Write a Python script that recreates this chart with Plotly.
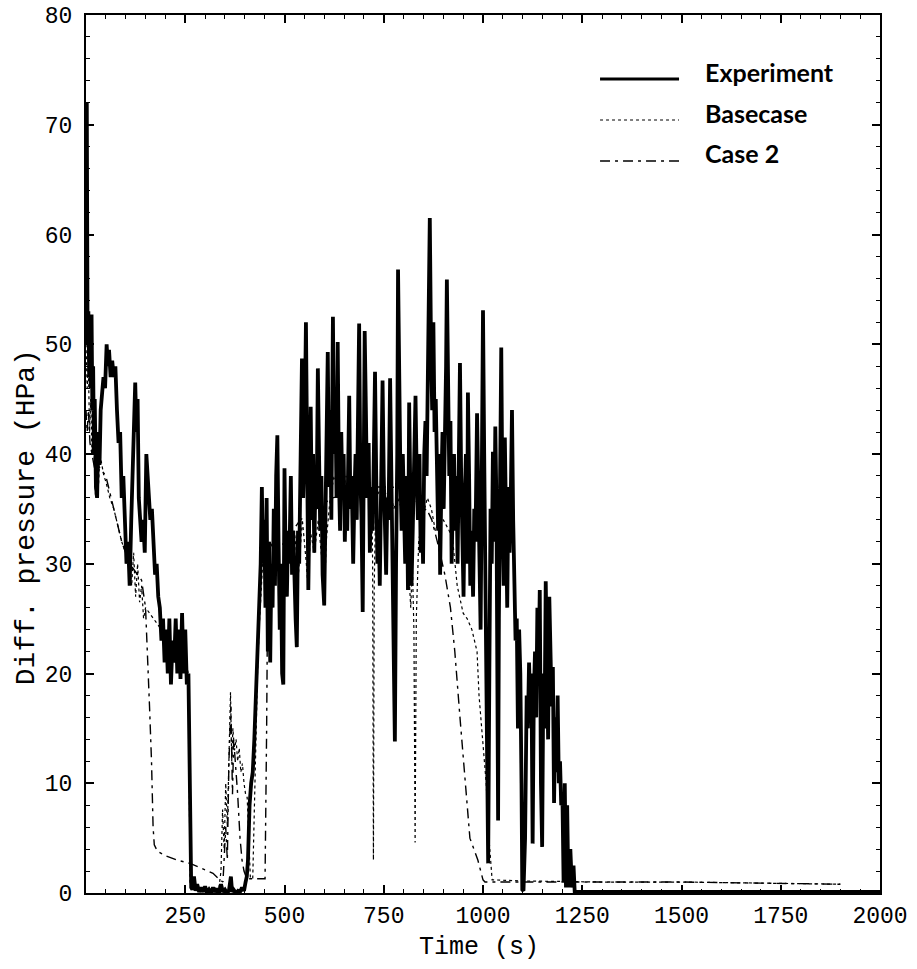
import plotly.graph_objects as go

# Differential pressure traces: (time s, pressure HPa)
experiment = [
    (0, 55), (2, 72), (4, 50), (6, 53), (8, 47), (10, 52.5), (12, 46), (14, 52.7), (16, 44), (18, 48),
    (20, 40), (22, 45), (25, 37), (28, 36), (31, 42), (34, 39), (37, 44), (40, 45), (44, 47), (48, 46),
    (52, 50), (55, 48), (58, 49.5), (62, 47), (66, 48.5), (70, 47), (74, 48), (78, 44), (82, 41), (86, 42),
    (90, 36), (94, 38), (98, 33), (102, 30), (106, 32), (110, 28), (114, 34), (118, 40), (121, 44), (124, 46.5),
    (127, 42), (130, 45), (133, 36), (136, 34), (140, 32), (144, 34), (148, 31), (152, 40), (156, 38), (159, 36),
    (162, 34), (166, 35), (170, 32), (174, 29), (178, 30), (182, 27), (186, 26), (190, 23), (194, 25), (198, 21),
    (202, 24), (206, 20), (210, 25), (214, 19), (218, 23), (222, 21), (226, 25), (230, 20), (234, 24), (238, 19.5),
    (242, 25.5), (246, 20), (250, 24), (254, 19), (258, 20), (262, 5), (265, 0.5), (268, 0.3), (272, 1.5), (276, 0.2),
    (280, 0.8), (285, 0.1), (290, 0.5), (295, 0.1), (300, 0.6), (305, 0), (310, 0.3), (315, 0), (320, 0.5), (325, 0.1),
    (330, 0.4), (335, 0), (340, 0.8), (345, 0.1), (350, 0.3), (355, 0), (360, 0.2), (365, 1.5), (368, 0.1), (372, 0.3),
    (378, 0), (383, 0.2), (388, 0.1), (393, 0.5), (398, 0.2), (402, 1), (405, 1.5), (408, 3), (412, 8), (416, 10),
    (420, 11), (424, 14), (428, 18), (432, 20), (436, 24), (440, 30), (443, 37), (446, 30), (449, 34), (452, 26),
    (455, 36), (458, 22), (461, 32), (464, 21), (467, 30), (470, 26), (473, 35), (476, 28), (479, 38), (482, 41.7),
    (485, 32), (488, 24), (491, 30), (494, 20), (497, 19), (500, 38.7), (503, 30), (506, 27), (509, 33), (512, 30),
    (516, 38), (519, 29), (522, 33), (525, 27), (528, 25), (531, 22.4), (534, 33), (537, 30), (540, 36), (544, 48.7),
    (547, 36), (550, 40), (554, 52), (557, 38), (560, 27.6), (563, 36), (566, 44.3), (569, 34), (572, 40), (575, 31),
    (578, 38), (581, 35), (584, 47.8), (587, 40), (590, 33), (593, 38), (596, 29), (600, 26.2), (603, 36), (606, 40),
    (609, 49.3), (612, 37), (615, 44), (618, 34), (622, 52.5), (625, 40), (628, 46), (631, 36), (634, 50.2), (637, 38),
    (640, 33), (643, 42), (646, 36), (649, 40), (652, 32), (655, 37), (658, 33), (663, 45.3), (666, 35), (669, 38),
    (673, 30), (676, 36), (679, 40), (682, 34), (685, 43), (688, 51.9), (691, 38), (694, 34), (697, 25.6), (700, 40),
    (702, 51.2), (705, 44), (708, 36), (712, 41), (715, 31), (718, 37), (722, 33), (725, 40), (728, 47.5), (731, 38),
    (734, 30), (737, 34), (740, 28), (743, 36), (747, 46.7), (750, 38), (753, 33), (756, 29), (759, 36), (762, 34),
    (766, 46.9), (769, 38), (772, 31), (775, 20), (778, 13.8), (781, 30), (784, 40), (786, 56.8), (789, 46), (792, 38),
    (795, 33), (798, 40), (801, 35), (804, 30), (808, 38), (811, 27.6), (814, 44.7), (817, 36), (820, 28), (823, 33),
    (826, 39), (830, 45.3), (833, 38), (836, 34), (840, 40), (843, 31), (846, 36), (849, 30), (852, 40), (855, 43),
    (858, 38), (861, 46), (864, 55), (866, 61.5), (869, 50), (872, 44), (875, 52), (878, 42), (881, 45), (884, 36),
    (887, 33), (890, 40), (892, 29), (895, 37), (898, 42), (901, 35), (904, 40), (907, 48), (909, 55.9), (912, 46),
    (915, 38), (918, 43), (921, 30), (924, 36), (927, 40), (930, 33), (933, 38), (936, 30), (939, 41), (942, 48.3),
    (945, 38), (948, 32), (951, 27), (954, 36), (957, 40), (960, 30), (962, 45.6), (965, 38), (968, 28), (971, 33),
    (975, 27), (978, 35), (981, 32), (985, 43.7), (988, 35), (991, 30), (994, 24), (997, 38), (1000, 53.1), (1003, 40),
    (1006, 30), (1009, 18), (1011, 8), (1013, 2.7), (1016, 20), (1019, 35), (1022, 30), (1025, 40.2), (1028, 32), (1031, 42.5),
    (1034, 35), (1036, 20), (1038, 6.6), (1040, 25), (1043, 38), (1046, 49.7), (1049, 35), (1052, 28), (1055, 41.5), (1058, 30),
    (1061, 26), (1064, 37), (1067, 31), (1070, 36), (1073, 44), (1076, 34), (1079, 30), (1082, 23), (1085, 25), (1088, 15),
    (1091, 24), (1094, 20), (1097, 10), (1099, 0.3), (1102, 0.2), (1106, 5), (1110, 18), (1113, 15), (1116, 21), (1119, 17),
    (1122, 20), (1125, 4.5), (1128, 18), (1131, 22), (1134, 16), (1137, 26), (1140, 20), (1143, 27.6), (1146, 10), (1149, 4.2),
    (1152, 20), (1155, 15), (1158, 28.4), (1161, 21), (1164, 14), (1167, 27), (1170, 20), (1173, 17), (1176, 20.6), (1179, 8.2),
    (1182, 16), (1185, 11), (1188, 18), (1191, 10), (1194, 12), (1197, 8), (1200, 9), (1203, 1), (1206, 10), (1209, 0.5),
    (1212, 8), (1215, 0.5), (1220, 4), (1224, 0.5), (1228, 2.5), (1231, 0.1), (1300, 0.1), (1500, 0.1), (1700, 0.1), (2000, 0.1),
]

basecase = [
    (0, 50), (3, 46), (6, 48), (9, 42), (12, 45), (15, 40), (18, 43), (21, 38), (24, 36), (27, 37),
    (30, 36), (35, 40), (40, 39), (45, 38), (50, 37.5), (60, 36), (70, 35), (80, 33.5), (90, 32), (100, 31),
    (110, 30), (115, 28), (120, 31), (125, 27), (130, 30), (135, 26.5), (140, 28), (145, 25), (150, 26), (170, 25),
    (190, 24), (210, 23), (230, 22), (250, 21), (258, 20), (262, 1), (270, 0.3), (300, 0.4), (335, 0.5), (340, 2),
    (344, 7.6), (348, 4), (352, 10), (356, 6), (360, 12), (364, 18.3), (367, 12), (370, 15), (374, 13), (378, 14),
    (382, 12), (386, 13.2), (390, 11), (394, 11.8), (398, 10), (402, 9), (406, 8.7), (410, 5), (414, 1.4), (420, 1.3),
    (424, 8), (428, 14), (432, 20), (436, 24), (440, 27), (445, 30), (455, 31), (465, 28), (475, 32), (485, 30),
    (495, 25), (505, 32), (515, 30), (525, 33), (535, 29), (545, 34), (555, 30), (560, 27.6), (565, 33), (575, 31),
    (585, 34), (595, 30), (600, 26.2), (605, 32), (615, 36), (625, 38), (635, 37), (645, 36), (655, 38), (665, 37),
    (675, 36), (685, 37), (695, 36), (705, 38), (715, 37), (720, 36), (722, 30), (724, 3), (726, 28), (730, 36),
    (745, 37), (755, 36), (765, 37), (775, 35), (785, 36), (795, 35), (805, 34), (812, 30), (818, 26), (822, 30),
    (826, 24), (829, 4.6), (832, 25), (838, 32), (846, 34), (860, 36), (870, 35), (880, 33), (890, 34), (900, 34),
    (915, 33), (924, 32), (935, 28), (950, 25.5), (960, 25), (972, 24), (985, 22), (990, 18), (1000, 13.3), (1008, 10),
    (1015, 5), (1020, 2), (1023, 1.2), (1100, 1.1), (1300, 1.0), (1500, 1.0), (1700, 0.9), (1900, 0.8),
]

case_2 = [
    (0, 44), (3, 42), (6, 44), (10, 41), (15, 40), (20, 39), (25, 38), (30, 39), (40, 38.5), (50, 38),
    (60, 36.5), (70, 35), (80, 33.5), (90, 32), (100, 31), (110, 30), (120, 29.5), (130, 29), (140, 28.5), (150, 26),
    (155, 22), (160, 17), (165, 12), (169, 6), (172, 4.4), (180, 3.8), (200, 3.4), (230, 3.0), (262, 2.7), (290, 2.3),
    (320, 1.8), (337, 1.2), (345, 1.0), (352, 6), (356, 3), (360, 12), (365, 17), (369, 9), (372, 14), (376, 12),
    (382, 9), (388, 5), (393, 3), (398, 2), (405, 1.3), (430, 1.3), (451, 1.3), (455, 15), (458, 30), (462, 32),
    (480, 31), (500, 32), (520, 33), (540, 34), (560, 34.5), (580, 35), (600, 35.5), (620, 36), (650, 36.2), (680, 36.5),
    (710, 37), (740, 37), (770, 37), (800, 36.8), (820, 36.5), (835, 35.5), (845, 34.7), (858, 35), (871, 34), (885, 32),
    (904, 29), (918, 26), (929, 22), (942, 16), (955, 10), (967, 5), (987, 3), (1000, 1.2), (1005, 1.0), (1300, 1.0),
    (1500, 1.0), (1700, 0.9), (1900, 0.8),
]

x_ticks = [250, 500, 750, 1000, 1250, 1500, 1750, 2000]
y_ticks = [0, 10, 20, 30, 40, 50, 60, 70, 80]
series_names = ["Experiment", "Basecase", "Case 2"]

MONO = "Liberation Mono, Courier New, monospace"
tick_font = dict(family=MONO, size=23, color="black")
DASHDOT = "10px,5px,3px,5px"

fig = go.Figure()

fig.add_trace(go.Scatter(
    x=[p[0] for p in case_2], y=[p[1] for p in case_2], mode="lines",
    line=dict(color="black", width=1.4, dash=DASHDOT), name=series_names[2]))
fig.add_trace(go.Scatter(
    x=[p[0] for p in basecase], y=[p[1] for p in basecase], mode="lines",
    line=dict(color="black", width=1.2, dash="dot"), name=series_names[1]))
fig.add_trace(go.Scatter(
    x=[p[0] for p in experiment], y=[p[1] for p in experiment], mode="lines",
    line=dict(color="black", width=3.8), name=series_names[0]))

# Hand-placed key in the upper right of the frame (paper coordinates)
key_rows = [
    (series_names[0], dict(color="black", width=3), 0.9271, 0.9328),
    (series_names[1], dict(color="black", width=1.2, dash="dot"), 0.8804, 0.8861),
    (series_names[2], dict(color="black", width=1.4, dash=DASHDOT), 0.8337, 0.8405),
]
for label, ln, y_line, y_text in key_rows:
    fig.add_shape(type="line", xref="paper", yref="paper",
                  x0=0.6474, x1=0.7469, y0=y_line, y1=y_line, line=ln)
    fig.add_annotation(xref="paper", yref="paper", x=0.7771, y=y_text,
                       text="<b>%s</b>" % label, showarrow=False,
                       xanchor="left", yanchor="middle", yshift=2,
                       font=dict(family="Lato, Liberation Sans, sans-serif", size=25, color="black"))

# Axis titles
fig.add_annotation(xref="paper", yref="paper", x=0.495, y=0, yshift=-54,
                   text="Time (s)", showarrow=False, xanchor="center", yanchor="middle",
                   font=dict(family=MONO, size=25, color="black"))
fig.add_annotation(xref="paper", yref="paper", x=0, xshift=-60, y=0.428,
                   text="Diff. pressure (HPa)", showarrow=False, textangle=-90,
                   xanchor="center", yanchor="middle",
                   font=dict(family=MONO, size=28, color="black"))

fig.update_layout(
    width=917, height=969,
    margin=dict(l=86, r=37, t=15, b=76),
    paper_bgcolor="white", plot_bgcolor="white",
    showlegend=False,
)

fig.update_xaxes(
    range=[0, 2000], tickmode="array", tickvals=x_ticks, automargin=False,
    ticks="inside", ticklen=8, tickwidth=1.5, tickcolor="black",
    minor=dict(tick0=0, dtick=50, ticks="inside", ticklen=4, tickwidth=1, tickcolor="black"),
    showline=True, linecolor="black", linewidth=2, mirror="allticks",
    showgrid=False, zeroline=False, tickfont=tick_font,
)
fig.update_yaxes(
    range=[0, 80], tickmode="array", tickvals=y_ticks, automargin=False,
    ticks="inside", ticklen=8, tickwidth=1.5, tickcolor="black",
    minor=dict(tick0=0, dtick=2, ticks="inside", ticklen=4, tickwidth=1, tickcolor="black"),
    showline=True, linecolor="black", linewidth=2, mirror="allticks",
    showgrid=False, zeroline=False, tickfont=tick_font, ticklabelstandoff=7,
)

fig.write_html("out.html")
